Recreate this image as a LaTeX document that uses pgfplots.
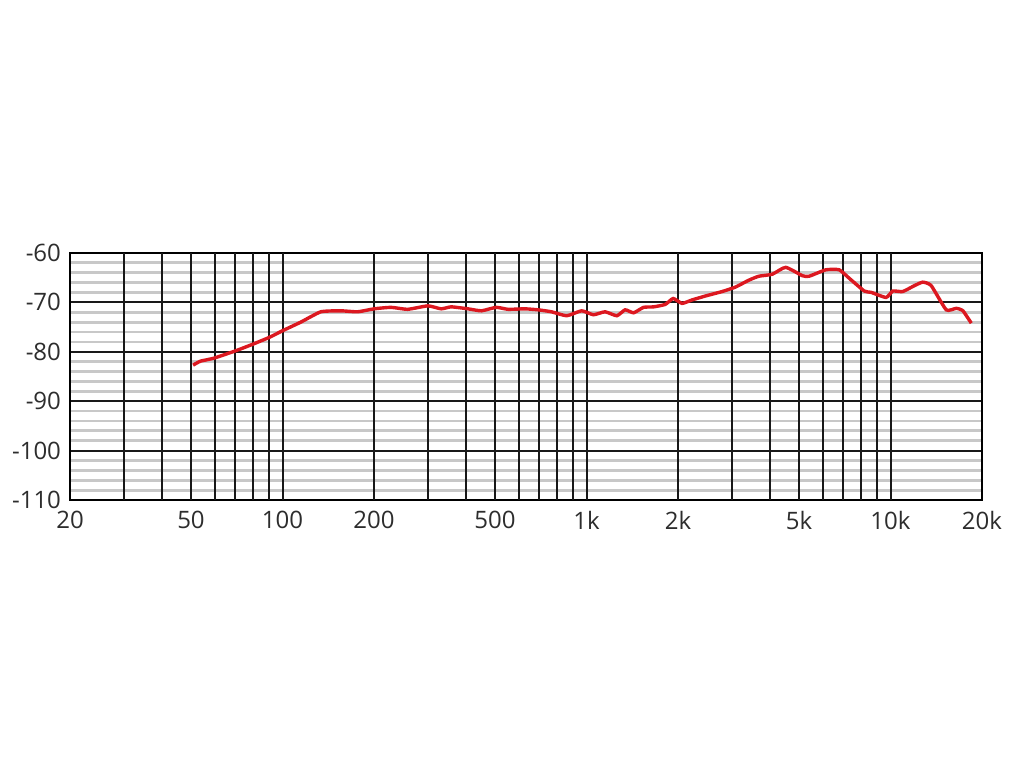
\documentclass[border=0pt]{standalone}
\usepackage{fontspec}
\setmainfont{Open Sans}
\usepackage{pgfplots}
\pgfplotsset{compat=1.18}
\definecolor{curvered}{RGB}{220,24,32}
\definecolor{labelgray}{RGB}{45,45,45}
\definecolor{minorgray}{RGB}{200,200,200}

\begin{document}
\begin{tikzpicture}
\path[use as bounding box] (0,0) rectangle (512pt,384pt);
\begin{axis}[
    at={(35pt,134pt)}, anchor=south west,
    scale only axis,
    width=456pt, height=123.5pt,
    xmode=log,
    xmin=20, xmax=20000,
    ymin=-110, ymax=-60,
    xtick={20,50,100,200,500,1000,2000,5000,10000,20000},
    xticklabels={20,50,100,200,500,1k,2k,5k,10k,20k},
    extra x ticks={30,40,50,60,70,80,90,100,200,300,400,500,600,700,800,900,1000,2000,3000,4000,5000,6000,7000,8000,9000,10000},
    extra x tick labels={},
    extra x tick style={grid=major, major grid style={black!90, line width=1pt}},
    ytick={-110,-100,-90,-80,-70,-60},
    minor y tick num=4,
    major tick length=0pt, minor tick length=0pt,
    xmajorgrids=false,
    ymajorgrids=true, yminorgrids=true,
    major y grid style={black!90, line width=1pt},
    minor y grid style={minorgray, line width=1.4pt},
    axis line style={black, line width=1pt},
    tick label style={font=\fontsize{12}{14}\selectfont, text=labelgray},
    /pgf/number format/assume math mode=true,
    yticklabel style={xshift=-1pt},
    xticklabel style={yshift=-2pt},
]
\addplot[curvered, line width=1.7pt, smooth, tension=0.3] coordinates {
    (50.8,-82.7) (53.7,-81.9) (59.4,-81.3) (70.1,-79.8) (79.6,-78.5)
    (90.3,-77.1) (100.3,-75.7) (114.8,-74.0) (133.7,-71.9) (155.6,-71.7)
    (176.7,-71.9) (200,-71.3) (227.6,-71.0) (258,-71.4) (300.8,-70.7)
    (332.6,-71.3) (359,-70.9) (407.6,-71.3) (451,-71.7) (505,-71.0)
    (552,-71.4) (627,-71.3) (693,-71.5) (767,-71.9) (861,-72.7)
    (964,-71.7) (1054,-72.5) (1151,-71.9) (1258,-72.7) (1340,-71.5)
    (1429,-72.1) (1541,-71.0) (1663,-70.9) (1817,-70.4) (1928,-69.2)
    (2062,-70.2) (2224,-69.5) (2462,-68.7) (2794,-67.8) (3090,-66.9)
    (3420,-65.5) (3690,-64.7) (4083,-64.3) (4520,-62.9) (5135,-64.6)
    (5400,-64.7) (6127,-63.4) (6780,-63.4) (7311,-65.1) (8200,-67.7)
    (8630,-67.96) (9670,-69.0) (10170,-67.7) (10970,-67.8) (11990,-66.6)
    (12770,-65.9) (13610,-66.6) (15250,-71.5) (16460,-71.2) (17310,-71.7)
    (18440,-74.2)
};
\end{axis}
\end{tikzpicture}
\end{document}
